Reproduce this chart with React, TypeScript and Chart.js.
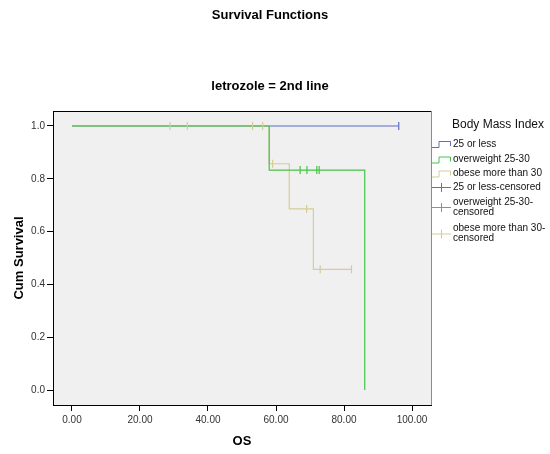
import React, { useEffect, useRef } from 'react';
import { Chart, registerables } from 'chart.js';

Chart.register(...registerables);

const mainTitle = 'Survival Functions';
const subTitle = 'letrozole = 2nd line';
const legendTitle = 'Body Mass Index';
const xTitle = 'OS';
const yTitle = 'Cum Survival';

const xTickValues = [0, 20, 40, 60, 80, 100];
const yTickValues = [0, 0.2, 0.4, 0.6, 0.8, 1.0];

const seriesNames = ['25 or less', 'overweight 25-30', 'obese more than 30'];
const seriesColors = ['#5b6fc7', '#44c444', '#d5cc98'];

// Kaplan-Meier steps (time, cumulative survival)
const lowTimes = [0, 96.1];
const lowSurv = [1, 1];
const overTimes = [0, 58.0, 86.1];
const overSurv = [1, 0.833, 0];
const obeseTimes = [0, 58.0, 63.9, 71.0, 82.2];
const obeseSurv = [1, 0.857, 0.686, 0.457, 0.457];

// Censored observations
const lowCensT = [96.1];
const lowCensS = [1];
const overCensT = [67.1, 69.1, 72.0, 72.7];
const overCensS = [0.833, 0.833, 0.833, 0.833];
const obeseCensT = [28.8, 33.9, 53.1, 56.1, 59.0, 69.0, 73.0, 82.2];
const obeseCensS = [1, 1, 1, 1, 0.857, 0.686, 0.457, 0.457];

const legendLabels = [
  ['25 or less'],
  ['overweight 25-30'],
  ['obese more than 30'],
  ['25 or less-censored'],
  ['overweight 25-30-', 'censored'],
  ['obese more than 30-', 'censored'],
];

const FONT = '"Liberation Sans", Arial, sans-serif';

const toPts = (t: number[], s: number[]) => t.map((v, i) => ({ x: v, y: s[i] }));

export default function App() {
  const ref = useRef<HTMLCanvasElement | null>(null);

  useEffect(() => {
    document.body.style.margin = '0';
    const canvas = ref.current;
    if (!canvas) return;

    const decor = {
      id: 'decor',
      beforeDraw(chart: any) {
        const { ctx, chartArea: a } = chart;
        ctx.save();
        ctx.fillStyle = '#f0f0f0';
        ctx.fillRect(a.left, a.top, a.right - a.left, a.bottom - a.top);
        ctx.restore();
      },
      afterDraw(chart: any) {
        const { ctx, chartArea: a } = chart;
        ctx.save();
        // top and right frame
        ctx.lineWidth = 1;
        ctx.strokeStyle = '#000';
        ctx.beginPath();
        ctx.moveTo(a.left, a.top + 0.5);
        ctx.lineTo(a.right, a.top + 0.5);
        ctx.stroke();
        ctx.strokeStyle = '#8c8c8c';
        ctx.beginPath();
        ctx.moveTo(a.right + 0.5, a.top);
        ctx.lineTo(a.right + 0.5, a.bottom);
        ctx.stroke();

        // titles
        ctx.fillStyle = '#000';
        ctx.font = 'bold 13px ' + FONT;
        ctx.textAlign = 'center';
        ctx.textBaseline = 'middle';
        ctx.fillText(mainTitle, 270, 15);
        ctx.fillText(subTitle, 270, 86);

        // legend
        const lx = a.right + 1;
        const tx = 453;
        ctx.textAlign = 'left';
        ctx.font = '12px ' + FONT;
        ctx.fillStyle = '#111';
        ctx.fillText(legendTitle, 452, 125);
        ctx.font = '10px ' + FONT;
        const rows = [
          [144],
          [159.5],
          [173.5],
          [187],
          [202, 212],
          [228.5, 238.5],
        ];
        rows.forEach((ys, i) => {
          const lines = legendLabels[i];
          lines.forEach((t, j) => ctx.fillText(t, tx, ys[j]));
          const cy = ys.length > 1 ? (ys[0] + ys[1]) / 2 : ys[0];
          const col = seriesColors[i % 3];
          ctx.strokeStyle = col;
          ctx.lineWidth = 1;
          ctx.beginPath();
          if (i < 3) {
            ctx.moveTo(lx, cy + 3.5);
            ctx.lineTo(lx + 7, cy + 3.5);
            ctx.lineTo(lx + 7, cy - 2.5);
            ctx.lineTo(lx + 18.5, cy - 2.5);
            ctx.lineTo(lx + 18.5, cy + 2);
          } else {
            ctx.moveTo(lx, cy + 0.5);
            ctx.lineTo(lx + 19, cy + 0.5);
            ctx.moveTo(lx + 9.5, cy - 4);
            ctx.lineTo(lx + 9.5, cy + 5);
          }
          ctx.stroke();
        });
        ctx.restore();
      },
    };

    const stepDs = (label: string, pts: any[], color: string, order: number) => ({
      label,
      data: pts,
      borderColor: color,
      backgroundColor: color,
      borderWidth: 1.2,
      pointRadius: 0,
      stepped: 'before' as const,
      fill: false,
      order,
    });
    const censDs = (label: string, pts: any[], color: string) => ({
      label,
      data: pts,
      showLine: false,
      borderColor: color,
      backgroundColor: color,
      pointStyle: 'line' as const,
      rotation: 90,
      pointRadius: 4,
      pointBorderWidth: 1.2,
      order: -1,
    });

    const chart = new Chart(canvas, {
      type: 'line',
      data: {
        datasets: [
          stepDs(seriesNames[0], toPts(lowTimes, lowSurv), seriesColors[0], 3),
          stepDs(seriesNames[2], toPts(obeseTimes, obeseSurv), seriesColors[2], 2),
          stepDs(seriesNames[1], toPts(overTimes, overSurv), seriesColors[1], 1),
          censDs(seriesNames[0] + '-censored', toPts(lowCensT, lowCensS), seriesColors[0]),
          censDs(seriesNames[1] + '-censored', toPts(overCensT, overCensS), seriesColors[1]),
          censDs(seriesNames[2] + '-censored', toPts(obeseCensT, obeseCensS), seriesColors[2]),
        ] as any,
      },
      options: {
        responsive: false,
        animation: false,
        events: [],
        layout: { padding: { top: 111, right: 119, left: 0, bottom: 0 } },
        plugins: {
          legend: { display: false },
          title: { display: false },
          tooltip: { enabled: false },
        },
        scales: {
          x: {
            type: 'linear',
            min: -5.588,
            max: 105.588,
            afterBuildTicks: (s: any) => {
              s.ticks = xTickValues.map((v) => ({ value: v }));
            },
            afterFit: (s: any) => {
              s.height = 49;
            },
            grid: {
              display: true,
              drawOnChartArea: false,
              drawTicks: true,
              tickLength: 6,
              color: '#000',
            },
            border: { display: true, color: '#000', width: 1 },
            ticks: {
              padding: 3,
              color: '#333',
              font: { family: FONT, size: 10 },
              maxRotation: 0,
              autoSkip: false,
              callback: (v: any) => Number(v).toFixed(2),
            },
            title: {
              display: true,
              text: xTitle,
              color: '#000',
              font: { family: FONT, size: 13, weight: 'bold' },
              padding: { top: 0, bottom: 5 },
            },
          },
          y: {
            type: 'linear',
            min: -0.0568,
            max: 1.0568,
            afterBuildTicks: (s: any) => {
              s.ticks = yTickValues.map((v) => ({ value: v }));
            },
            afterFit: (s: any) => {
              s.width = 53;
            },
            grid: {
              display: true,
              drawOnChartArea: false,
              drawTicks: true,
              tickLength: 6,
              color: '#000',
            },
            border: { display: true, color: '#000', width: 1 },
            ticks: {
              padding: 2,
              color: '#333',
              font: { family: FONT, size: 10 },
              autoSkip: false,
              callback: (v: any) => Number(v).toFixed(1),
            },
            title: {
              display: true,
              text: yTitle,
              color: '#000',
              font: { family: FONT, size: 13, weight: 'bold' },
              padding: { top: 12, bottom: 0 },
            },
          },
        },
      } as any,
      plugins: [decor],
    });

    return () => chart.destroy();
  }, []);

  return (
    <canvas
      ref={ref}
      width={550}
      height={454}
      style={{ display: 'block', width: 550, height: 454 }}
    />
  );
}
